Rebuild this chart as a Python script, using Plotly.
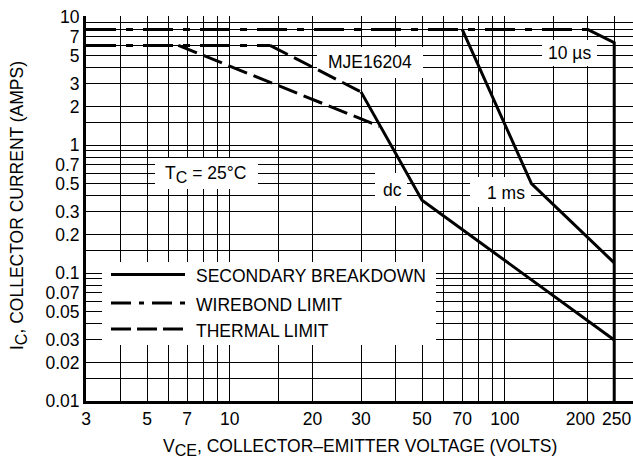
import math
import plotly.graph_objects as go

# ---------------- data ----------------
# wirebond limits (dash-dot)
wb_pulse_v = [3, 200]
wb_pulse_i = [8, 8]
wb_dc_v = [3, 14]
wb_dc_i = [6, 6]
# thermal limits (dashed)
th_dc_v = [6.5, 35]
th_dc_i = [6, 1.4]
th_pulse_v = [14, 30]
th_pulse_i = [6, 2.6]
# secondary breakdown (solid)
sb_dc_v = [30, 50, 250]
sb_dc_i = [2.6, 0.37, 0.03]
sb_1ms_v = [70, 125, 250]
sb_1ms_i = [8, 0.5, 0.12]
sb_10us_v = [200, 250, 250]
sb_10us_i = [8, 6.3, 0.01]

x_grid = [3, 4, 5, 6, 7, 8, 9, 10, 15, 20, 30, 40, 50, 60, 70, 80, 90, 100, 150, 200, 250]
x_labels = ["3", "5", "7", "10", "20", "30", "50", "70", "100", "200", "250"]
y_grid = [0.01, 0.015, 0.02, 0.03, 0.04, 0.05, 0.06, 0.07, 0.08, 0.09,
          0.1, 0.15, 0.2, 0.3, 0.4, 0.5, 0.6, 0.7, 0.8, 0.9,
          1, 1.5, 2, 3, 4, 5, 6, 7, 8, 9, 10]
y_labels = ["0.01", "0.02", "0.03", "0.05", "0.07", "0.1", "0.2", "0.3", "0.5", "0.7",
            "1", "2", "3", "5", "7", "10"]

legend_names = ["SECONDARY BREAKDOWN", "WIREBOND LIMIT", "THERMAL LIMIT"]

# ---------------- layout geometry ----------------
W, H = 633, 462
L, R, T, B = 86, 0, 16, 61
PW, PH = W - L - R, H - T - B
XPD = 275.0  # px per decade (x)
YPD = PH / (3 + 1 / 128)
x_range = [math.log10(3), math.log10(3) + PW / XPD]
y_range = [-2, -2 + PH / YPD]

FONT = "Liberation Sans, Arial, sans-serif"
FS = 17.5
BLACK = "#000000"
NB = "\u00a0"

WB_DASH = "30px,10px,7px,10px"
TH_DASH = "20px,7px"


def fx(px):  # pixel -> paper x
    return (px - L) / PW


def fy(py):  # pixel -> paper y
    return (H - B - py) / PH


def dx(px):  # pixel -> x data value (log axis)
    return 10 ** (x_range[0] + (px - L) / XPD)


def dy(py):  # pixel -> y data value (log axis)
    return 10 ** (y_range[0] + (H - B - py) / YPD)


def fmt(v):
    return ("%g" % v)


def sub(s):
    return "<sub><span style='font-size:16px'>%s</span></sub>" % s


fig = go.Figure()

def add_line(xs, ys, dash):
    fig.add_trace(go.Scatter(x=xs, y=ys, mode="lines",
                             line=dict(color=BLACK, width=3, dash=dash),
                             showlegend=False, hoverinfo="skip"))

add_line(wb_pulse_v, wb_pulse_i, WB_DASH)
add_line(wb_dc_v, wb_dc_i, WB_DASH)
add_line(th_dc_v, th_dc_i, TH_DASH)
add_line(th_pulse_v, th_pulse_i, TH_DASH)
add_line(sb_dc_v, sb_dc_i, "solid")
add_line(sb_1ms_v, sb_1ms_i, "solid")
add_line(sb_10us_v, sb_10us_i, "solid")

# white label boxes (above grid, below curves)
boxes = [
    (102, 262, 436, 345),   # legend
    (317, 47, 423, 78),     # MJE16204
    (542, 40, 597, 66),     # 10 us
    (155, 158, 258, 189),   # Tc
    (375, 173, 407, 206),   # dc
    (470, 177, 531, 207),   # 1 ms
]
for (x0, y0, x1, y1) in boxes:
    fig.add_shape(type="rect", xref="x", yref="y",
                  x0=dx(x0), x1=dx(x1), y0=dy(y1), y1=dy(y0),
                  fillcolor="white", line=dict(width=0), layer="between")

# legend samples
leg_rows = [274.5, 303, 329]
leg_dash = ["solid", "20px,8px,5px,8px", "20px,6px"]
for name, yy, dsh in zip(legend_names, leg_rows, leg_dash):
    fig.add_shape(type="line", xref="paper", yref="paper",
                  x0=fx(111), x1=fx(185), y0=fy(yy), y1=fy(yy),
                  line=dict(color=BLACK, width=3, dash=dsh), layer="above")
    fig.add_annotation(xref="paper", yref="paper", x=fx(194), y=fy(yy + 1.5),
                       xanchor="left", yanchor="middle", text=name, showarrow=False,
                       font=dict(family=FONT, size=FS, color=BLACK))

labels = [
    ("MJE16204", 370, 62),
    ("10 µs", 569, 53),
    ("T" + sub("C") + " = 25°C", 205, 174),
    ("dc", 392, 190),
    ("1 ms", 505.5, 193),
]
for txt, px, py in labels:
    fig.add_annotation(xref="paper", yref="paper", x=fx(px), y=fy(py),
                       xanchor="center", yanchor="middle", text=txt, showarrow=False,
                       font=dict(family=FONT, size=FS, color=BLACK))

# axis titles
fig.add_annotation(xref="paper", yref="paper", x=fx(360), y=fy(447),
                   xanchor="center", yanchor="middle", showarrow=False,
                   text="V" + sub("CE") + ", COLLECTOR–EMITTER VOLTAGE (VOLTS)",
                   font=dict(family=FONT, size=FS, color=BLACK))
fig.add_annotation(xref="paper", yref="paper", x=fx(18), y=fy(206),
                   xanchor="center", yanchor="middle", showarrow=False, textangle=-90,
                   text="I" + sub("C") + ", COLLECTOR CURRENT (AMPS)",
                   font=dict(family=FONT, size=FS, color=BLACK))

# tick texts; the two crowded labels at the right end are nudged apart
x_nudge = {"200": "200" + NB * 3, "250": NB + "250"}
x_ticktext = [x_nudge.get(fmt(v), fmt(v)) if fmt(v) in x_labels else "" for v in x_grid]
y_ticktext = [fmt(v) if fmt(v) in y_labels else "" for v in y_grid]

fig.update_layout(
    width=W, height=H,
    margin=dict(l=L, r=R, t=T, b=B, pad=0, autoexpand=False),
    paper_bgcolor="white", plot_bgcolor="white",
    showlegend=False,
    font=dict(family=FONT, size=FS, color=BLACK),
    xaxis=dict(type="log", range=x_range, tickmode="array", tickvals=x_grid,
               ticktext=x_ticktext, showgrid=True, gridcolor=BLACK, gridwidth=1,
               showline=True, linecolor=BLACK, linewidth=3, ticks="",
               zeroline=False, tickangle=0, automargin=False,
               ticklabeloverflow="allow",
               tickfont=dict(family=FONT, size=FS, color=BLACK)),
    yaxis=dict(type="log", range=y_range, tickmode="array", tickvals=y_grid,
               ticktext=y_ticktext, showgrid=True, gridcolor=BLACK, gridwidth=1,
               showline=True, linecolor=BLACK, linewidth=3, ticks="",
               zeroline=False, automargin=False,
               tickfont=dict(family=FONT, size=FS, color=BLACK)),
)

fig.write_html("out.html", config={"displayModeBar": False},
               post_script="document.body.style.margin='0px';")
